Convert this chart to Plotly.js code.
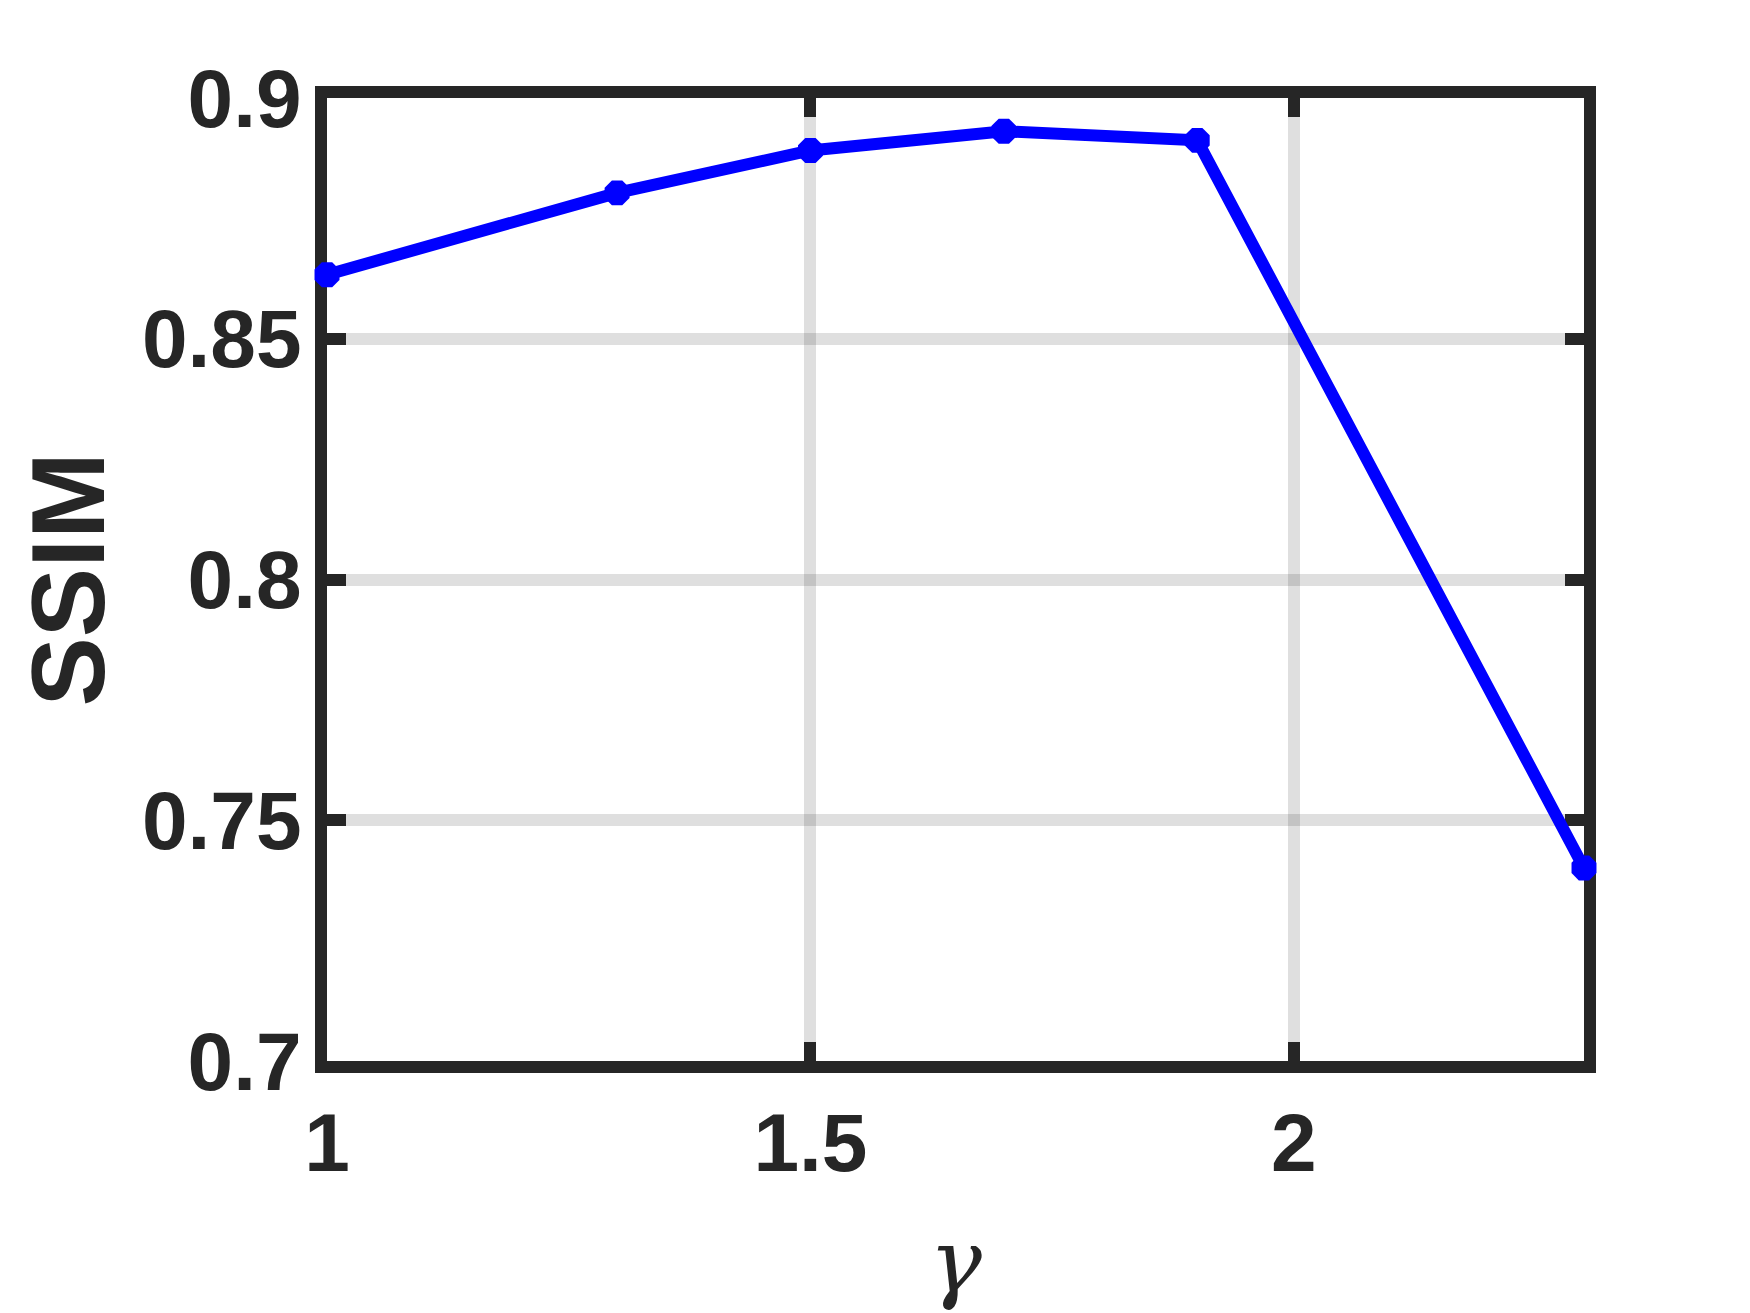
<!DOCTYPE html>
<html>
<head>
<meta charset="utf-8">
<script src="https://cdn.plot.ly/plotly-3.0.1.min.js"></script>
<style>
  html, body { margin: 0; padding: 0; background: #ffffff; }
  #chart { width: 1750px; height: 1313px; }
</style>
</head>
<body>
<div id="chart"></div>
<script>
// SSIM against gamma
const gammaValues = [1, 1.3, 1.5, 1.7, 1.9, 2.3];
const ssimValues = [0.8633, 0.8803, 0.8891, 0.8931, 0.8912, 0.7401];

const xTickValues = [1, 1.5, 2];
const xTickLabels = ["1", "1.5", "2"];
const yTickValues = [0.7, 0.75, 0.8, 0.85, 0.9];
const yTickLabels = ["0.7", "0.75", "0.8", "0.85", "0.9"];

const axisColor = "#262626";
const gridColor = "rgba(38, 38, 38, 0.15)";
const tickFont = { family: "Liberation Sans, Arial, sans-serif", size: 82, color: axisColor, weight: "bold" };

const ssimTrace = {
  x: gammaValues,
  y: ssimValues,
  type: "scatter",
  mode: "lines+markers",
  line: { color: "#0000ff", width: 12 },
  marker: { color: "#0000ff", size: 27, symbol: "octagon" },
  cliponaxis: false,
  showlegend: false,
};

// Shared axis look (boxed frame, inside ticks, translucent grid)
function axisStyle() {
  return {
    showline: true,
    linecolor: axisColor,
    linewidth: 12,
    mirror: "ticks",
    ticks: "inside",
    ticklen: 19,
    tickwidth: 12,
    tickcolor: axisColor,
    showgrid: true,
    gridcolor: gridColor,
    gridwidth: 12,
    zeroline: false,
    layer: "below traces",
    tickfont: tickFont,
  };
}

const layout = {
  width: 1750,
  height: 1313,
  paper_bgcolor: "#ffffff",
  plot_bgcolor: "#ffffff",
  margin: { l: 327, r: 166, t: 98, b: 252 },
  xaxis: Object.assign(axisStyle(), {
    range: [1, 2.3],
    tickvals: xTickValues,
    ticktext: xTickLabels,
    ticklabelstandoff: 0,
    title: {
      text: "<i>γ</i>",
      font: { family: "DejaVu Serif, serif", size: 88, color: axisColor },
      standoff: 50,
    },
  }),
  yaxis: Object.assign(axisStyle(), {
    range: [0.7, 0.9],
    tickvals: yTickValues,
    ticktext: yTickLabels,
    ticklabelstandoff: -3,
  }),
  // y label placed by hand, the axis title would not sit close enough to the ticks
  annotations: [
    {
      text: "SSIM",
      xref: "paper",
      yref: "paper",
      x: -0.2068,
      y: 0.5,
      xanchor: "center",
      yanchor: "middle",
      textangle: -90,
      showarrow: false,
      font: { family: "Liberation Sans, Arial, sans-serif", size: 104, color: axisColor, weight: "bold" },
    },
  ],
};

Plotly.newPlot("chart", [ssimTrace], layout, { staticPlot: true, displayModeBar: false });
</script>
</body>
</html>
